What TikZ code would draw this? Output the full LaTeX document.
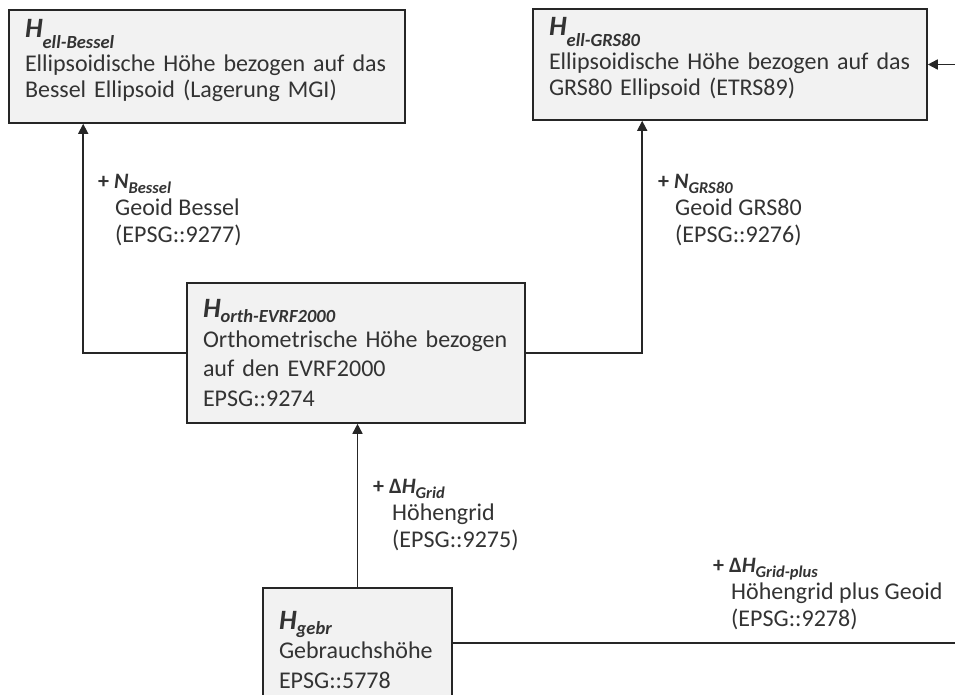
\documentclass[tikz,border=0pt]{standalone}
\usepackage{fontspec}
\setmainfont{Carlito}
\usetikzlibrary{arrows.meta,positioning}
\definecolor{textgray}{HTML}{333333}
\definecolor{boxfill}{HTML}{F2F2F2}
\definecolor{linegray}{HTML}{262626}
% Hoehen-Symbol mit tiefgestelltem Index: #1 Index, #2 Absenkung
\newcommand{\Hname}[2]{{\fontsize{28}{28}\selectfont\bfseries\itshape H}%
  \smash{\raisebox{-#2}{\fontsize{18.5}{18.5}\selectfont\bfseries\itshape #1}}}
% Korrektur-Symbol: #1 Vorzeichen/Symbol, #2 Index
\newcommand{\Kname}[2]{{\fontsize{22}{22}\selectfont\bfseries #1}%
  \smash{\raisebox{-5pt}{\fontsize{16.5}{16.5}\selectfont\bfseries\itshape #2}}}
% zusaetzliche Tiefe der letzten Zeile
\newcommand{\tiefe}[1]{\rule[-#1]{0pt}{#1}}
\tikzset{
  hbox/.style={draw=linegray, fill=boxfill, line width=1.6pt, align=left,
    inner xsep=16pt, inner ysep=0pt, text=textgray,
    font=\fontsize{24}{26.5}\selectfont},
  hboxwide/.style={hbox, font=\fontsize{24}{29.5}\selectfont},
  corr/.style={align=left, anchor=north west, inner sep=0pt, text=textgray,
    font=\fontsize{24}{27}\selectfont},
  arr/.style={-{Triangle[length=10pt,width=10pt]}, line width=1.6pt, draw=linegray},
  plain/.style={line width=1.6pt, draw=linegray}
}
\begin{document}
\begin{tikzpicture}[x=1pt, y=-1pt]
  \useasboundingbox (0,0) rectangle (955,695);

  % Kaesten
  \node[hbox, minimum width=396pt, minimum height=113pt, text width=364pt]
    (hbessel) at (207,66.5)
    {\Hname{ell-Bessel}{10.5pt}\\[7pt]
     Ellipsoidische Höhe bezogen auf das\\
     Bessel Ellipsoid (Lagerung MGI)\tiefe{16pt}};
  \node[hbox, minimum width=394pt, minimum height=111pt, text width=362pt]
    (hgrs) at (730,64.5)
    {\Hname{ell-GRS80}{10.5pt}\\[7pt]
     Ellipsoidische Höhe bezogen auf das\\
     GRS80 Ellipsoid (ETRS89)\tiefe{16pt}};
  \node[hboxwide, minimum width=338pt, minimum height=140pt, text width=306pt]
    (horth) at (356,353)
    {\Hname{orth-EVRF2000}{5pt}\\
     Orthometrische Höhe bezogen\\
     auf den EVRF2000\\
     EPSG::9274};
  \node[hboxwide, minimum width=189pt, minimum height=124pt, text width=157pt]
    (hgebr) at (357.5,650)
    {\Hname{gebr}{5pt}\\
     Gebrauchshöhe\\
     EPSG::5778};

  % Korrekturen
  \node[corr] (nbessel) at (98,174)
    {\Kname{+ \textit{N}}{Bessel}\\
     \hspace*{17pt}Geoid Bessel\\
     \hspace*{17pt}(EPSG::9277)};
  \node[corr] (ngrs) at (658,174)
    {\Kname{+ \textit{N}}{GRS80}\\
     \hspace*{17pt}Geoid GRS80\\
     \hspace*{17pt}(EPSG::9276)};
  \node[corr] (dhgrid) at (373,479)
    {\Kname{+ Δ\textit{H}}{Grid}\\
     \hspace*{19pt}Höhengrid\\
     \hspace*{19pt}(EPSG::9275)};
  \node[corr] (dhplus) at (713,558)
    {\Kname{+ Δ\textit{H}}{Grid-plus}\\
     \hspace*{18pt}Höhengrid plus Geoid\\
     \hspace*{18pt}(EPSG::9278)};

  % Verbindungen
  \coordinate (rechtsoben) at (955,64.5);
  \coordinate (rechtsunten) at (955,643);
  \draw[arr] (horth.west) -| ([xshift=75pt]hbessel.south west);
  \draw[arr] (horth.east) -| ([xshift=110pt]hgrs.south west);
  \draw[arr] (hgebr.north) -- (hgebr.north |- horth.south);
  \draw[arr] (rechtsoben) -- (hgrs.east);
  \draw[plain] (hgebr.east |- rechtsunten) -- (rechtsunten);
\end{tikzpicture}
\end{document}
